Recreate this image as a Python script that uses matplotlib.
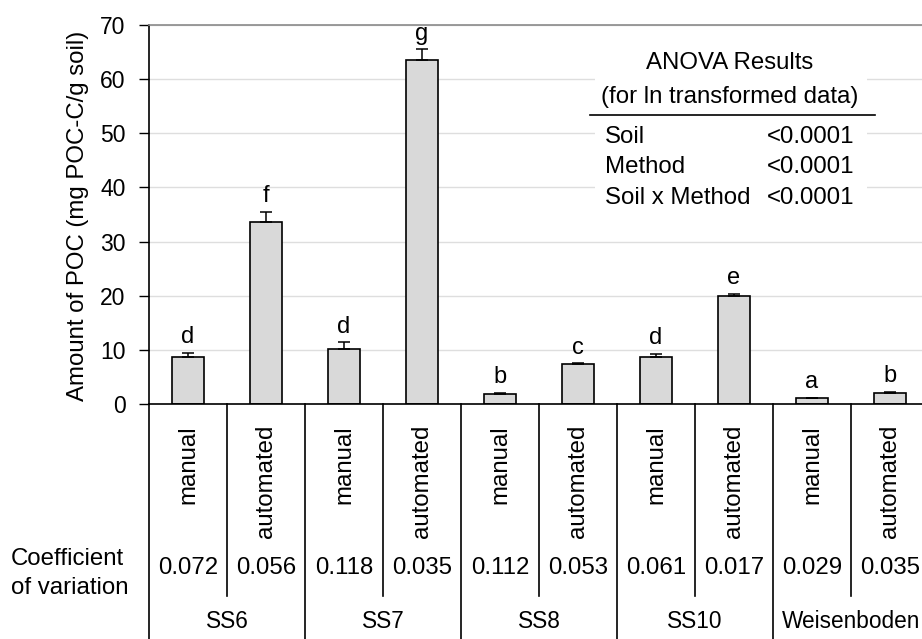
import matplotlib
matplotlib.use("Agg")
import matplotlib.pyplot as plt
from matplotlib.transforms import blended_transform_factory
from matplotlib.patches import Rectangle

plt.rcParams['font.family'] = ['Liberation Sans', 'DejaVu Sans']

soils = ['SS6', 'SS7', 'SS8', 'SS10', 'Weisenboden']
methods = ['manual', 'automated']
values = [8.7, 33.7, 10.2, 63.5, 1.85, 7.3, 8.7, 19.9, 1.1, 2.1]
errors = [0.7, 1.8, 1.2, 2.0, 0.2, 0.2, 0.5, 0.4, 0.05, 0.2]
letters = ['d', 'f', 'd', 'g', 'b', 'c', 'd', 'e', 'a', 'b']
cv = ['0.072', '0.056', '0.118', '0.035', '0.112', '0.053', '0.061', '0.017', '0.029', '0.035']
anova_terms = ['Soil', 'Method', 'Soil x Method']
anova_p = ['<0.0001', '<0.0001', '<0.0001']
yticks = [0, 10, 20, 30, 40, 50, 60, 70]

W, H = 922, 639
fig = plt.figure(figsize=(W / 100, H / 100), dpi=100)
ax = fig.add_axes([149 / W, 235 / H, 780 / W, 379 / H])

n = len(values)
x = list(range(n))
ax.bar(x, values, width=0.41, color='#d9d9d9', edgecolor='black', linewidth=1.2, zorder=2)
ax.errorbar(x, values, yerr=[[0] * n, errors], fmt='none', ecolor='black',
            elinewidth=1.1, capsize=4, capthick=1.1, zorder=3)
for xi, v, e, l in zip(x, values, errors, letters):
    ax.annotate(l, (xi, v + e), xytext=(0, 7), textcoords='offset points',
                ha='center', va='baseline', fontsize=17, zorder=4)

ax.set_xlim(-0.5, n - 0.5)
ax.set_ylim(0, 70)
ax.set_yticks(yticks)
ax.set_xticks([])
ax.tick_params(axis='y', direction='out', length=7, width=1, labelsize=16.5, pad=10)
ax.yaxis.grid(True, color='#dedede', linewidth=1)
ax.set_axisbelow(True)
for s in ['left', 'bottom']:
    ax.spines[s].set_color('black')
    ax.spines[s].set_linewidth(1.2)
ax.spines['top'].set_color('#8a8a8a')
ax.spines['top'].set_linewidth(1.2)
ax.spines['right'].set_visible(False)

# ANOVA box
ax.add_patch(Rectangle((0.5718, 0.50), 0.3487, 0.46, transform=ax.transAxes,
                       facecolor='white', edgecolor='none', zorder=0.8))
fs = 17.3
ax.text(0.7449, 0.8997, 'ANOVA Results', transform=ax.transAxes, ha='center', va='center', fontsize=fs)
ax.text(0.7449, 0.81, '(for ln transformed data)', transform=ax.transAxes, ha='center', va='center', fontsize=fs)
ax.plot([0.5654, 0.9308], [0.7625, 0.7625], transform=ax.transAxes, color='black', lw=1.2)
for yy, term, p in zip([0.7045, 0.6253, 0.5435], anova_terms, anova_p):
    ax.text(0.5846, yy, term, transform=ax.transAxes, ha='left', va='center', fontsize=fs)
    ax.text(0.9038, yy, p, transform=ax.transAxes, ha='right', va='center', fontsize=fs)

# category table below axis
trans = blended_transform_factory(ax.transData, ax.transAxes)
for i in range(n + 1):
    bottom = -0.65 if i % 2 == 0 else -0.5066
    ax.plot([i - 0.5, i - 0.5], [0, bottom], transform=trans, color='black',
            lw=1.2, clip_on=False)
for i in range(n):
    ax.text(i, -0.0554, methods[i % 2], rotation=90, ha='center', va='top',
            transform=trans, fontsize=fs)
    ax.text(i, -0.4327, cv[i], ha='center', va='center', transform=trans, fontsize=fs)
for k, s in enumerate(soils):
    ax.text(2 * k + 0.5, -0.575, s, ha='center', va='center', transform=trans, fontsize=16.3)

fig.text(11 / W, 1 - 559 / H, 'Coefficient', ha='left', va='center', fontsize=fs)
fig.text(11 / W, 1 - 588 / H, 'of variation', ha='left', va='center', fontsize=fs)
fig.text(78 / W, 1 - 216 / H, 'Amount of POC (mg POC-C/g soil)', rotation=90,
         ha='center', va='center', fontsize=17.3)

fig.savefig('out.png', dpi=100)
